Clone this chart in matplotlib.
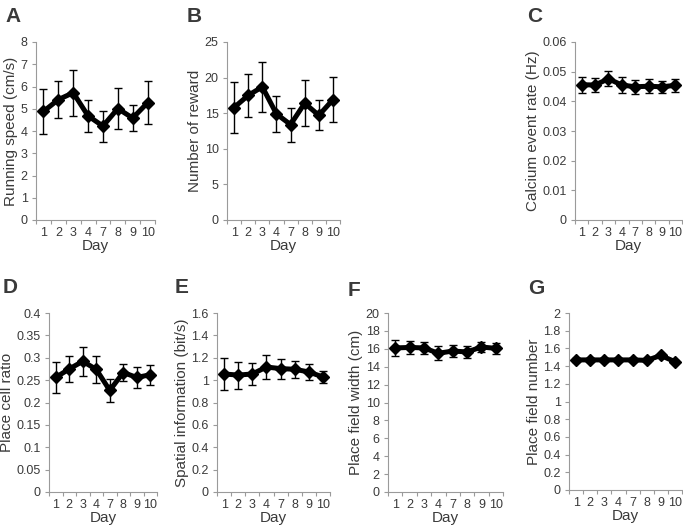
import matplotlib.pyplot as plt
import numpy as np

plt.rcParams['font.family'] = ['Liberation Sans', 'DejaVu Sans']

days = ['1', '2', '3', '4', '7', '8', '9', '10']

speed = [4.88, 5.41, 5.72, 4.68, 4.22, 5.01, 4.58, 5.27]
speed_err = [1.03, 0.84, 1.03, 0.73, 0.70, 0.92, 0.60, 0.96]

reward = [15.8, 17.5, 18.7, 14.9, 13.4, 16.4, 14.7, 16.9]
reward_err = [3.6, 3.0, 3.5, 2.5, 2.4, 3.2, 2.1, 3.2]

calcium = [0.0456, 0.0455, 0.0476, 0.0455, 0.0449, 0.0451, 0.0449, 0.0454]
calcium_err = [0.0027, 0.0025, 0.0025, 0.0027, 0.0024, 0.0023, 0.0020, 0.0022]

pc_ratio = [0.256, 0.275, 0.292, 0.274, 0.227, 0.267, 0.256, 0.262]
pc_ratio_err = [0.035, 0.029, 0.032, 0.030, 0.026, 0.019, 0.024, 0.022]

spatial = [1.055, 1.045, 1.055, 1.117, 1.103, 1.097, 1.073, 1.028]
spatial_err = [0.14, 0.12, 0.10, 0.105, 0.09, 0.075, 0.075, 0.05]

pf_width = [16.1, 16.15, 16.1, 15.5, 15.75, 15.65, 16.2, 16.05]
pf_width_err = [0.85, 0.75, 0.65, 0.8, 0.7, 0.7, 0.6, 0.6]

pf_number = [1.47, 1.47, 1.47, 1.47, 1.47, 1.465, 1.52, 1.45]
pf_number_err = [0.02, 0.02, 0.02, 0.02, 0.02, 0.02, 0.02, 0.02]

W, H = 683, 527
SPINE = '#9a9a9a'
TXT = '#3a3a3a'

def px_rect(x0, x1, ytop, ybot):
    return [x0 / W, 1 - ybot / H, (x1 - x0) / W, (ybot - ytop) / H]

fig = plt.figure(figsize=(W / 100, H / 100), dpi=100)

panels = [
    # letter, rect, values, errors, ylabel, yticks, ticklabels, letter pos
    ('A', px_rect(36, 155, 42, 220), speed, speed_err, 'Running speed (cm/s)',
     np.arange(0, 9, 1), None, (5, 22)),
    ('B', px_rect(227, 340, 42, 220), reward, reward_err, 'Number of reward',
     np.arange(0, 26, 5), None, (187, 22)),
    ('C', px_rect(575, 682, 42, 220), calcium, calcium_err, 'Calcium event rate (Hz)',
     np.arange(0, 0.061, 0.01), ['0', '0.01', '0.02', '0.03', '0.04', '0.05', '0.06'], (527, 22)),
    ('D', px_rect(49, 157, 313, 492), pc_ratio, pc_ratio_err, 'Place cell ratio',
     np.arange(0, 0.41, 0.05), ['0', '0.05', '0.1', '0.15', '0.2', '0.25', '0.3', '0.35', '0.4'], (3, 293)),
    ('E', px_rect(217, 330, 313, 492), spatial, spatial_err, 'Spatial information (bit/s)',
     np.arange(0, 1.61, 0.2), ['0', '0.2', '0.4', '0.6', '0.8', '1', '1.2', '1.4', '1.6'], (175, 293)),
    ('F', px_rect(388, 503, 313, 492), pf_width, pf_width_err, 'Place field width (cm)',
     np.arange(0, 21, 2), None, (348, 296)),
    ('G', px_rect(569, 682, 313, 490), pf_number, pf_number_err, 'Place field number',
     np.arange(0, 2.01, 0.2), ['0', '0.2', '0.4', '0.6', '0.8', '1', '1.2', '1.4', '1.6', '1.8', '2'], (528, 294)),
]

x = np.arange(len(days))

for letter, rect, vals, errs, ylab, yt, ytl, lpos in panels:
    ax = fig.add_axes(rect)
    ax.errorbar(x, vals, yerr=errs, fmt='none', ecolor='k', elinewidth=1,
                capsize=3, capthick=1)
    ax.plot(x, vals, color='k', lw=3.6, marker='D', ms=6.5)
    ax.set_xlim(-0.5, len(days) - 0.5)
    ax.set_ylim(yt[0], yt[-1])
    ax.set_yticks(yt)
    if ytl is not None:
        ax.set_yticklabels(ytl)
    else:
        ax.set_yticklabels([str(int(round(v))) for v in yt])
    # category axis: ticks between days, labels at centres
    ax.set_xticks(np.arange(-0.5, len(days), 1))
    ax.set_xticklabels([])
    ax.set_xticks(x, minor=True)
    ax.set_xticklabels(days, minor=True)
    ax.tick_params(axis='x', which='minor', length=0, pad=5, labelsize=9, labelcolor=TXT)
    ax.tick_params(axis='x', which='major', length=3, width=0.8, color=SPINE)
    ax.tick_params(axis='y', length=3, width=0.8, color=SPINE, labelsize=9,
                   labelcolor=TXT, pad=3)
    for s in ['top', 'right']:
        ax.spines[s].set_visible(False)
    for s in ['left', 'bottom']:
        ax.spines[s].set_color(SPINE)
        ax.spines[s].set_linewidth(0.8)
    ax.set_xlabel('Day', fontsize=11, color=TXT, labelpad=0)
    ax.set_ylabel(ylab, fontsize=11, color=TXT, labelpad=2)
    fig.text(lpos[0] / W, 1 - lpos[1] / H, letter, fontsize=15, fontweight='bold',
             color=TXT, ha='left', va='baseline')

fig.savefig('out.png', dpi=100)
